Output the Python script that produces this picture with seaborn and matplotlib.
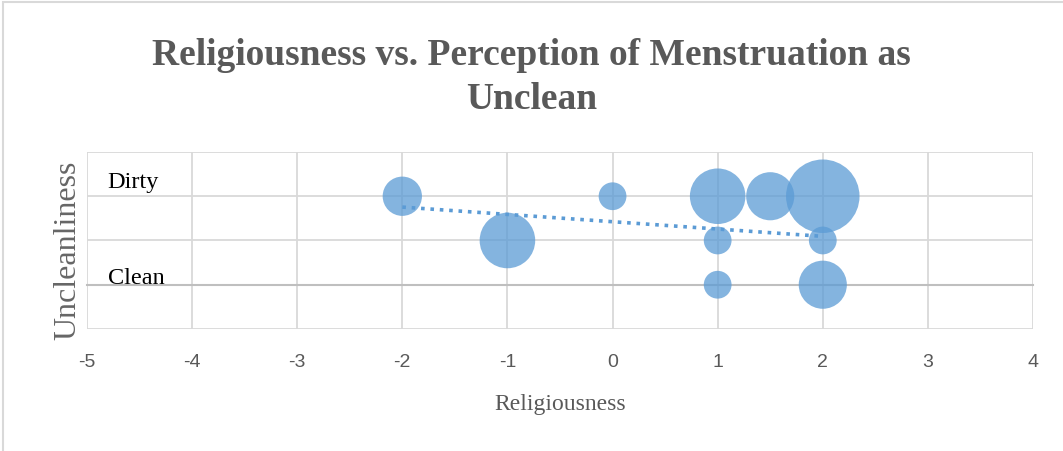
import numpy as np
import pandas as pd
import matplotlib
matplotlib.use("Agg")
import matplotlib.pyplot as plt
import seaborn as sns
from matplotlib.patches import Rectangle

# data
religiousness = [-2, -1, 0, 1, 1.5, 2, 1, 2, 1, 2]
uncleanliness = [2, 1, 2, 2, 2, 2, 1, 1, 0, 0]
bubble_size = [2, 4, 1, 4, 3, 7, 1, 1, 1, 3]
x_ticks = [-5, -4, -3, -2, -1, 0, 1, 2, 3, 4]
y_ticks = [-1, 0, 1, 2, 3]

df = pd.DataFrame({"Religiousness": religiousness,
                   "Uncleanliness": uncleanliness,
                   "n": bubble_size})

sns.set_style("white")
plt.rcParams["axes.unicode_minus"] = False
serif = ["Liberation Serif", "DejaVu Serif"]
sans = ["Liberation Sans", "DejaVu Sans"]

fig = plt.figure(figsize=(10.63, 4.52), dpi=100)
ax = fig.add_axes([0.0818, 0.27, 0.89, 0.3915])

blue = "#5B9BD5"
grey_txt = "#595959"

unit = 400  # points^2 for size 1
sns.scatterplot(data=df, x="Religiousness", y="Uncleanliness", size="n",
                sizes=(unit * 1, unit * 7), size_norm=(1, 7),
                color=blue, alpha=0.75, edgecolor="none", legend=False,
                ax=ax, zorder=3)
sns.regplot(data=df, x="Religiousness", y="Uncleanliness", scatter=False,
            ci=None, color=blue, ax=ax,
            line_kws={"linestyle": (0, (1, 1.6)), "linewidth": 2.6, "zorder": 4})

ax.set_xlim(-5, 4)
ax.set_ylim(-1, 3)
ax.set_xticks(x_ticks)
ax.set_yticks(y_ticks)
ax.set_yticklabels([])
ax.grid(True, color="#D9D9D9", linewidth=1.3)
ax.set_axisbelow(True)
for s in ["top", "right", "left"]:
    ax.spines[s].set_visible(False)
ax.spines["bottom"].set_position(("data", 0))
ax.spines["bottom"].set_color("#BFBFBF")
ax.spines["bottom"].set_linewidth(1.5)
ax.spines["bottom"].set_zorder(2)
ax.tick_params(axis="x", direction="inout", length=7, width=1.3, color="#BFBFBF",
               pad=46, labelsize=14, labelcolor=grey_txt)
ax.tick_params(axis="y", length=0)
for lab in ax.get_xticklabels():
    lab.set_family(sans)

ax.set_xlabel("Religiousness", family=serif, fontsize=17, color=grey_txt)
ax.xaxis.set_label_coords(0.5, -0.36)
ax.set_ylabel("Uncleanliness", family=serif, fontsize=23, color="#666666")
ax.yaxis.set_label_coords(-0.005, 0.45)

ax.text(0.022, 0.80, "Dirty", transform=ax.transAxes, family=serif, fontsize=17.5,
        color="black", va="baseline")
ax.text(0.022, 0.262, "Clean", transform=ax.transAxes, family=serif, fontsize=17.5,
        color="black", va="baseline")

fig.suptitle("Religiousness vs. Perception of Menstruation as\nUnclean",
             family=serif, fontweight="bold", fontsize=27, color=grey_txt,
             y=0.915, linespacing=1.3)

# chart frame
fig.patches.append(Rectangle((3 / 1063, -0.1), 1.2, 1.1 - 3 / 452,
                             transform=fig.transFigure, fill=False,
                             edgecolor="#D9D9D9", linewidth=1.5))

fig.savefig("out.png", dpi=100)
